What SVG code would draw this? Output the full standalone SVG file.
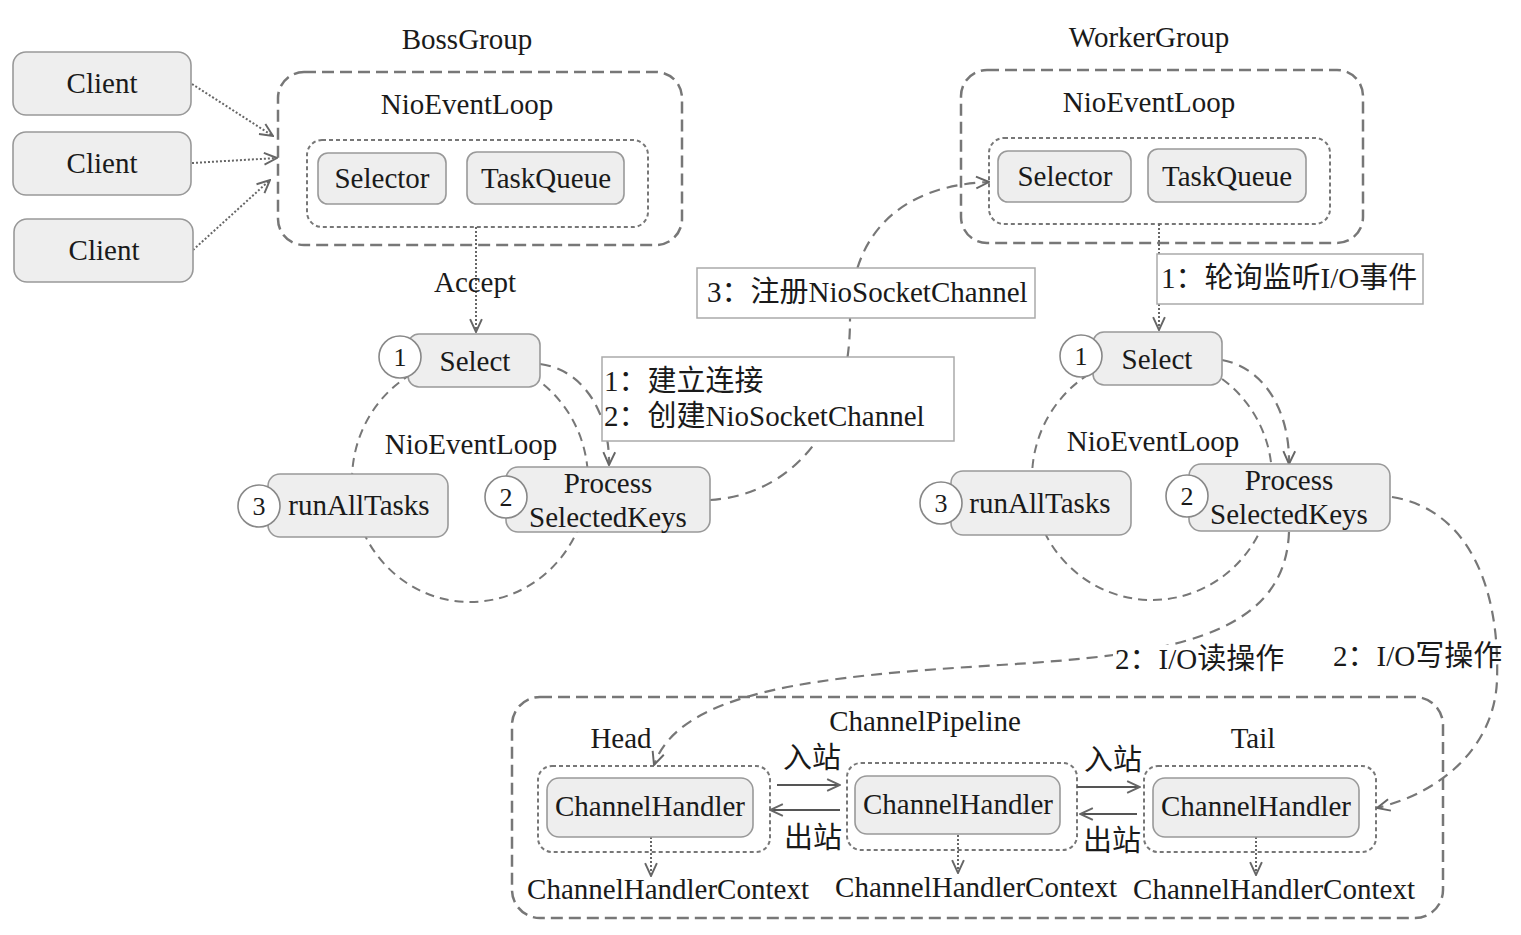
<svg xmlns="http://www.w3.org/2000/svg" width="1521" height="935" viewBox="0 0 1521 935">
<defs>
<style>
.t{font-family:"Liberation Serif","Noto Sans CJK SC",serif;font-size:29px;fill:#1a1a1a}
.m{text-anchor:middle}
.box{fill:#eeeeee;stroke:#999;stroke-width:1.6}
.grp{fill:none;stroke:#777;stroke-width:2.5;stroke-dasharray:12 6}
.inner{fill:none;stroke:#777;stroke-width:2;stroke-dasharray:4 3}
.loop{fill:none;stroke:#777;stroke-width:2;stroke-dasharray:9 6}
.dash{fill:none;stroke:#777;stroke-width:2.2;stroke-dasharray:11 7}
.dot{fill:none;stroke:#666;stroke-width:2;stroke-dasharray:2 2}
.solid{fill:none;stroke:#555;stroke-width:2.2}
.num{fill:#fff;stroke:#888;stroke-width:1.6}
.lbl{fill:#fff;stroke:#aaa;stroke-width:1.5}
.d{font-size:26px}
</style>
<marker id="ah" viewBox="0 0 14 14" refX="13" refY="7" markerWidth="15" markerHeight="15" markerUnits="userSpaceOnUse" orient="auto">
<path d="M1,1.5 L13,7 L1,12.5" fill="none" stroke="#666" stroke-width="1.8" stroke-dasharray="none"/>
</marker>
</defs>
<rect width="1521" height="935" fill="#fff"/>

<g id="bossGroup">
<text class="t m" x="467" y="49">BossGroup</text>
<rect class="grp" x="278" y="72" width="404" height="173" rx="26"/>
<text class="t m" x="467" y="114">NioEventLoop</text>
<rect class="inner" x="307" y="140" width="341" height="87" rx="15"/>
</g>
<g id="workerGroup">
<text class="t m" x="1149" y="47">WorkerGroup</text>
<rect class="grp" x="961" y="70" width="402" height="173" rx="26"/>
<text class="t m" x="1149" y="112">NioEventLoop</text>
<rect class="inner" x="989" y="138" width="341" height="86" rx="15"/>
</g>
<g id="pipeline">
<rect class="grp" x="512" y="697" width="931" height="221" rx="28"/>
<text class="t m" x="925" y="731">ChannelPipeline</text>
<text class="t m" x="621" y="748">Head</text>
<text class="t m" x="1253" y="748">Tail</text>
<rect class="inner" x="538" y="766" width="232" height="86" rx="14"/>
<rect class="inner" x="847" y="763" width="230" height="87" rx="14"/>
<rect class="inner" x="1144" y="766" width="232" height="86" rx="14"/>
</g>

<g id="connectors">
<ellipse class="loop" cx="470" cy="480" rx="118" ry="122"/>
<ellipse class="loop" cx="1152" cy="478" rx="120" ry="122"/>
<path class="dot" d="M192,84 L273,136" marker-end="url(#ah)"/>
<path class="dot" d="M192,163 L277,158" marker-end="url(#ah)"/>
<path class="dot" d="M193,250 L270,180" marker-end="url(#ah)"/>
<path class="dot" d="M476,227 L476,332" marker-end="url(#ah)"/>
<path class="dot" d="M1159,224 L1159,330" marker-end="url(#ah)"/>
<path class="dash" d="M540,364 C585,370 610,415 609,465" marker-end="url(#ah)"/>
<path class="dash" d="M1222,360 C1265,368 1290,412 1289,464" marker-end="url(#ah)"/>
<path class="dash" d="M710,500 C790,495 850,430 850,320 C850,230 905,185 989,182" marker-end="url(#ah)"/>
<path class="dash" d="M1289,532 C1285,640 1160,655 1000,665 C820,676 680,690 654,765" marker-end="url(#ah)"/>
<path class="dash" d="M1392,497 C1470,510 1500,590 1497,680 C1495,740 1450,790 1377,808" marker-end="url(#ah)"/>
<path class="solid" d="M777,785 L840,785" marker-end="url(#ah)"/>
<path class="solid" d="M840,810 L770,810" marker-end="url(#ah)"/>
<path class="solid" d="M1077,787 L1140,787" marker-end="url(#ah)"/>
<path class="solid" d="M1137,814 L1080,814" marker-end="url(#ah)"/>
<path class="dot" d="M651,837 L651,876" marker-end="url(#ah)"/>
<path class="dot" d="M958,835 L958,873" marker-end="url(#ah)"/>
<path class="dot" d="M1256,837 L1256,875" marker-end="url(#ah)"/>
</g>

<g id="client1"><rect class="box" x="13" y="52" width="178" height="63" rx="13"/><text class="t m" x="102" y="93">Client</text></g>
<g id="client2"><rect class="box" x="13" y="132" width="178" height="63" rx="13"/><text class="t m" x="102" y="173">Client</text></g>
<g id="client3"><rect class="box" x="14" y="219" width="179" height="63" rx="13"/><text class="t m" x="104" y="260">Client</text></g>

<g id="bossSelector"><rect class="box" x="318" y="153" width="128" height="51" rx="10"/><text class="t m" x="382" y="188">Selector</text></g>
<g id="bossTaskQueue"><rect class="box" x="467" y="152" width="157" height="52" rx="10"/><text class="t m" x="546" y="188">TaskQueue</text></g>
<g id="workerSelector"><rect class="box" x="998" y="151" width="133" height="51" rx="10"/><text class="t m" x="1065" y="186">Selector</text></g>
<g id="workerTaskQueue"><rect class="box" x="1148" y="149" width="158" height="53" rx="10"/><text class="t m" x="1227" y="186">TaskQueue</text></g>

<text class="t m" x="475" y="292">Accept</text>

<g id="bossSelect"><rect class="box" x="408" y="334" width="132" height="53" rx="11"/><text class="t m" x="475" y="371">Select</text>
<circle class="num" cx="400" cy="357" r="21"/><text class="t m d" x="400" y="366">1</text></g>
<text class="t m" x="471" y="454">NioEventLoop</text>
<g id="bossRunAllTasks"><rect class="box" x="268" y="474" width="180" height="63" rx="12"/><text class="t m" x="359" y="515">runAllTasks</text>
<circle class="num" cx="259" cy="506" r="21"/><text class="t m d" x="259" y="515">3</text></g>
<g id="bossProcess"><rect class="box" x="506" y="467" width="204" height="65" rx="12"/><text class="t m" x="608" y="493">Process</text><text class="t m" x="608" y="527">SelectedKeys</text>
<circle class="num" cx="506" cy="497" r="21"/><text class="t m d" x="506" y="506">2</text></g>

<g id="workerSelect"><rect class="box" x="1093" y="332" width="129" height="53" rx="11"/><text class="t m" x="1157" y="369">Select</text>
<circle class="num" cx="1081" cy="356" r="21"/><text class="t m d" x="1081" y="365">1</text></g>
<text class="t m" x="1153" y="451">NioEventLoop</text>
<g id="workerRunAllTasks"><rect class="box" x="951" y="471" width="180" height="64" rx="12"/><text class="t m" x="1040" y="513">runAllTasks</text>
<circle class="num" cx="941" cy="503" r="21"/><text class="t m d" x="941" y="512">3</text></g>
<g id="workerProcess"><rect class="box" x="1189" y="464" width="201" height="67" rx="12"/><text class="t m" x="1289" y="490">Process</text><text class="t m" x="1289" y="524">SelectedKeys</text>
<circle class="num" cx="1187" cy="496" r="21"/><text class="t m d" x="1187" y="505">2</text></g>

<g id="labelConnect"><rect class="lbl" x="602" y="357" width="352" height="84"/>
<text class="t" x="604" y="391">1：建立连接</text><text class="t" x="604" y="426">2：创建NioSocketChannel</text></g>
<g id="labelRegister"><rect class="lbl" x="697" y="268" width="338" height="50"/>
<text class="t" x="707" y="302">3：注册NioSocketChannel</text></g>
<g id="labelPoll"><rect class="lbl" x="1157" y="254" width="266" height="50"/>
<text class="t" x="1161" y="288">1：轮询监听I/O事件</text></g>
<g id="labelRead"><rect x="1113" y="645" width="172" height="30" fill="#fff"/>
<text class="t" x="1115" y="669">2：I/O读操作</text></g>
<text class="t" x="1333" y="666">2：I/O写操作</text>

<g id="head"><rect class="box" x="547" y="778" width="206" height="59" rx="12"/><text class="t m" x="650" y="816">ChannelHandler</text></g>
<g id="middle"><rect class="box" x="855" y="776" width="205" height="58" rx="12"/><text class="t m" x="958" y="814">ChannelHandler</text></g>
<g id="tail"><rect class="box" x="1153" y="778" width="206" height="59" rx="12"/><text class="t m" x="1256" y="816">ChannelHandler</text></g>
<text class="t m" x="812" y="768">入站</text>
<text class="t m" x="813" y="848">出站</text>
<text class="t m" x="1113" y="770">入站</text>
<text class="t m" x="1112" y="851">出站</text>
<text class="t m" x="668" y="899">ChannelHandlerContext</text>
<text class="t m" x="976" y="897">ChannelHandlerContext</text>
<text class="t m" x="1274" y="899">ChannelHandlerContext</text>
</svg>
